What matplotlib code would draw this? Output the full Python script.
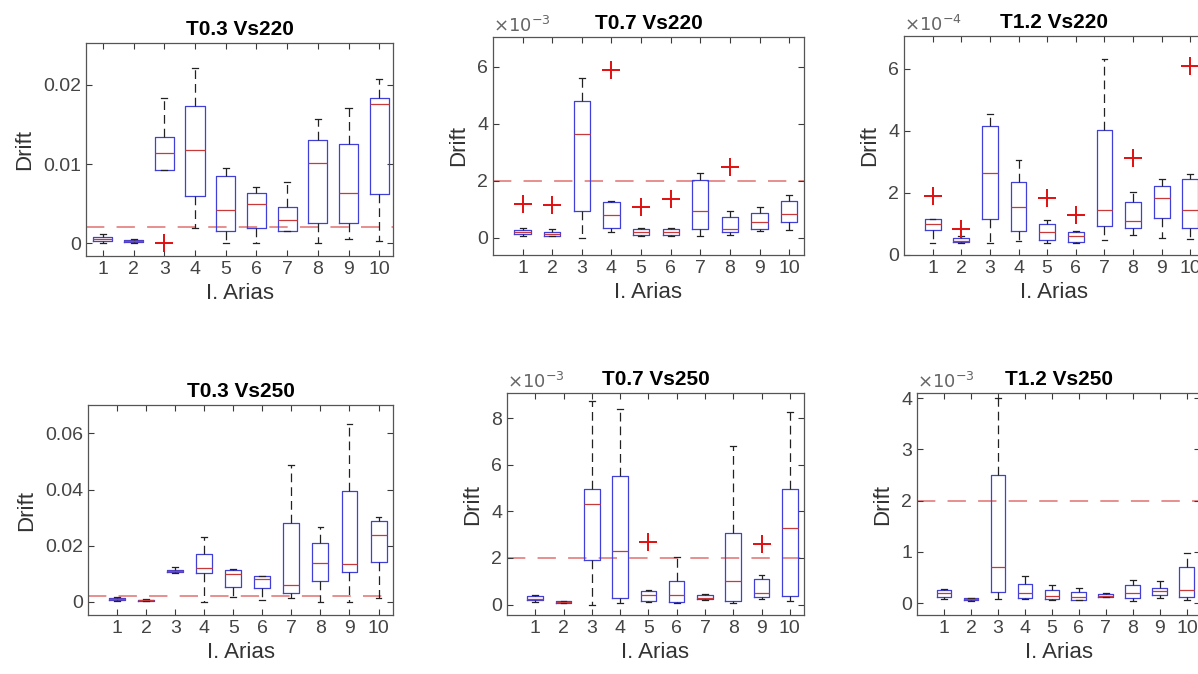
import numpy as np
import matplotlib.pyplot as plt

plt.rcParams['font.family'] = ['Liberation Sans', 'DejaVu Sans']

boxes = list(range(1, 11))

# T0.3 Vs220 (raw drift)
a_lo = [0.0001, 0.0001, 0.0093, 0.0019, 0.0, 0.0, 0.0015, 0.0, 0.0006, 0.0003]
a_q1 = [0.0003, 0.0002, 0.0093, 0.0060, 0.0016, 0.0019, 0.0015, 0.0026, 0.0026, 0.0062]
a_med = [0.0005, 0.0003, 0.0114, 0.0118, 0.0042, 0.0050, 0.0029, 0.0102, 0.0063, 0.0176]
a_q3 = [0.0008, 0.0004, 0.0134, 0.0173, 0.0085, 0.0063, 0.0046, 0.0130, 0.0125, 0.0183]
a_hi = [0.0012, 0.0005, 0.0183, 0.0221, 0.0095, 0.0071, 0.0078, 0.0157, 0.0171, 0.0207]
a_out_x = [3]
a_out_y = [0.0]

# T0.7 Vs220 (x1e-3)
b_lo = [0.05, 0.05, 0.0, 0.2, 0.05, 0.05, 0.08, 0.1, 0.25, 0.26]
b_q1 = [0.12, 0.08, 0.94, 0.35, 0.1, 0.1, 0.32, 0.22, 0.32, 0.55]
b_med = [0.2, 0.15, 3.63, 0.81, 0.2, 0.2, 0.94, 0.3, 0.57, 0.84]
b_q3 = [0.28, 0.22, 4.8, 1.25, 0.3, 0.3, 2.02, 0.73, 0.88, 1.31]
b_hi = [0.35, 0.3, 5.6, 1.3, 0.35, 0.35, 2.27, 0.96, 1.1, 1.49]
b_out_x = [1, 2, 4, 5, 6, 8]
b_out_y = [1.2, 1.17, 5.9, 1.1, 1.35, 2.5]

# T1.2 Vs220 (x1e-4)
c_lo = [0.38, 0.38, 0.38, 0.45, 0.38, 0.4, 0.49, 0.65, 0.56, 0.52]
c_q1 = [0.81, 0.42, 1.15, 0.78, 0.49, 0.42, 0.94, 0.86, 1.19, 0.86]
c_med = [1.0, 0.45, 2.65, 1.54, 0.75, 0.6, 1.46, 1.1, 1.85, 1.45]
c_q3 = [1.17, 0.55, 4.15, 2.35, 0.99, 0.75, 4.02, 1.7, 2.22, 2.45]
c_hi = [1.17, 0.62, 4.55, 3.05, 1.13, 0.78, 6.3, 2.02, 2.43, 2.6]
c_out_x = [1, 2, 5, 6, 8, 10]
c_out_y = [1.9, 0.85, 1.82, 1.3, 3.12, 6.08]

# T0.3 Vs250 (raw drift)
d_lo = [0.0002, 0.0002, 0.0103, 0.0, 0.0018, 0.0006, 0.0012, 0.0, 0.0, 0.0012]
d_q1 = [0.0006, 0.0004, 0.0106, 0.0101, 0.0054, 0.0048, 0.003, 0.0074, 0.0107, 0.0143]
d_med = [0.0009, 0.0006, 0.011, 0.0122, 0.0098, 0.0083, 0.006, 0.0139, 0.0135, 0.0238]
d_q3 = [0.0013, 0.0008, 0.0114, 0.0172, 0.0115, 0.0091, 0.0282, 0.0208, 0.0396, 0.0288]
d_hi = [0.0016, 0.001, 0.0123, 0.0232, 0.0116, 0.0093, 0.0487, 0.0267, 0.0634, 0.0303]
d_out_x = []
d_out_y = []

# T0.7 Vs250 (x1e-3)
e_lo = [0.12, 0.05, 0.0, 0.05, 0.1, 0.05, 0.18, 0.05, 0.25, 0.14]
e_q1 = [0.18, 0.08, 1.93, 0.29, 0.14, 0.1, 0.22, 0.14, 0.33, 0.36]
e_med = [0.25, 0.1, 4.3, 2.3, 0.4, 0.43, 0.3, 1.0, 0.5, 3.3]
e_q3 = [0.35, 0.14, 4.95, 5.5, 0.6, 1.0, 0.4, 3.05, 1.1, 4.95]
e_hi = [0.4, 0.16, 8.75, 8.4, 0.62, 2.05, 0.45, 6.8, 1.25, 8.25]
e_out_x = [5, 9]
e_out_y = [2.7, 2.6]

# T1.2 Vs250 (x1e-3)
f_lo = [0.08, 0.05, 0.08, 0.08, 0.07, 0.07, 0.12, 0.05, 0.1, 0.07]
f_q1 = [0.13, 0.06, 0.22, 0.1, 0.08, 0.07, 0.13, 0.1, 0.17, 0.13]
f_med = [0.2, 0.08, 0.7, 0.2, 0.15, 0.13, 0.15, 0.2, 0.23, 0.25]
f_q3 = [0.26, 0.1, 2.5, 0.37, 0.26, 0.22, 0.18, 0.35, 0.3, 0.7]
f_hi = [0.28, 0.11, 4.0, 0.53, 0.35, 0.3, 0.19, 0.45, 0.43, 0.97]
f_out_x = []
f_out_y = []

titles = ['T0.3 Vs220', 'T0.7 Vs220', 'T1.2 Vs220',
          'T0.3 Vs250', 'T0.7 Vs250', 'T1.2 Vs250']
limit = [0.002, 2, 20, 0.002, 2, 2]  # 2e-3 drift limit in each panel's units
exponents = [None, '-3', '-4', None, '-3', '-3']
yticks = [[0, 0.01, 0.02], [0, 2, 4, 6], [0, 2, 4, 6],
          [0, 0.02, 0.04, 0.06], [0, 2, 4, 6, 8], [0, 1, 2, 3, 4]]
yticklabels = [['0', '0.01', '0.02'], ['0', '2', '4', '6'], ['0', '2', '4', '6'],
               ['0', '0.02', '0.04', '0.06'], ['0', '2', '4', '6', '8'], ['0', '1', '2', '3', '4']]
ylims = [(-0.0016, 0.0253), (-0.6, 7.05), (0, 7.05),
         (-0.0047, 0.0701), (-0.45, 9.08), (-0.23, 4.1)]
xlims = [(0.45, 10.45), (0, 10.5), (0, 10.5), (0, 10.5), (0, 10.5), (0, 10.5)]
rects = [[0.0718, 0.6202, 0.2563, 0.3160],
         [0.4115, 0.6217, 0.2596, 0.3234],
         [0.7546, 0.6217, 0.2509, 0.3249],
         [0.0735, 0.0875, 0.2546, 0.3116],
         [0.4232, 0.0875, 0.2479, 0.3294],
         [0.7654, 0.0875, 0.2366, 0.3294]]
widths = [0.62, 0.55, 0.55, 0.55, 0.55, 0.55]

panels = [(a_lo, a_q1, a_med, a_q3, a_hi, a_out_x, a_out_y),
          (b_lo, b_q1, b_med, b_q3, b_hi, b_out_x, b_out_y),
          (c_lo, c_q1, c_med, c_q3, c_hi, c_out_x, c_out_y),
          (d_lo, d_q1, d_med, d_q3, d_hi, d_out_x, d_out_y),
          (e_lo, e_q1, e_med, e_q3, e_hi, e_out_x, e_out_y),
          (f_lo, f_q1, f_med, f_q3, f_hi, f_out_x, f_out_y)]

fig = plt.figure(figsize=(11.98, 6.74), dpi=100)
axis_col = '#3a3a3a'

for i, (lo, q1, med, q3, hi, ox, oy) in enumerate(panels):
    ax = fig.add_axes(rects[i])
    stats = []
    for k in range(10):
        stats.append({'whislo': lo[k], 'q1': q1[k], 'med': med[k],
                      'q3': q3[k], 'whishi': hi[k], 'fliers': []})
    ax.axhline(limit[i], color='#e07070', lw=1.1, ls=(0, (12, 8)), zorder=0.5)
    ax.bxp(stats, positions=boxes, widths=widths[i], capwidths=0.2,
           showfliers=False, manage_ticks=False,
           boxprops=dict(color='#4040d8', lw=0.9),
           medianprops=dict(color='#c83a3a', lw=0.9),
           whiskerprops=dict(color='#222222', lw=0.9, ls=(0, (7, 4))),
           capprops=dict(color='#222222', lw=0.9))
    ax.plot(ox, oy, '+', color='#e01010', ms=13, mew=1.4, ls='none')

    ax.set_xlim(*xlims[i])
    ax.set_ylim(*ylims[i])
    ax.set_xticks(boxes)
    ax.set_yticks(yticks[i], yticklabels[i])
    ax.tick_params(direction='in', top=True, right=True, length=4,
                   width=0.8, colors=axis_col, labelsize=14, labelcolor='#444444')
    for sp in ax.spines.values():
        sp.set_color('#555555')
        sp.set_linewidth(0.9)
    ax.set_title(titles[i], fontsize=15, fontweight='bold', pad=6)
    ax.set_xlabel('I. Arias', fontsize=16, color='#333333', labelpad=4)
    ax.set_ylabel('Drift', fontsize=16, color='#333333', labelpad=6)
    if exponents[i]:
        ax.text(0.0, 1.005, r'$\times10^{%s}$' % exponents[i], transform=ax.transAxes,
                ha='left', va='bottom', fontsize=13, color='#666666')

fig.savefig('out.png', dpi=100)
